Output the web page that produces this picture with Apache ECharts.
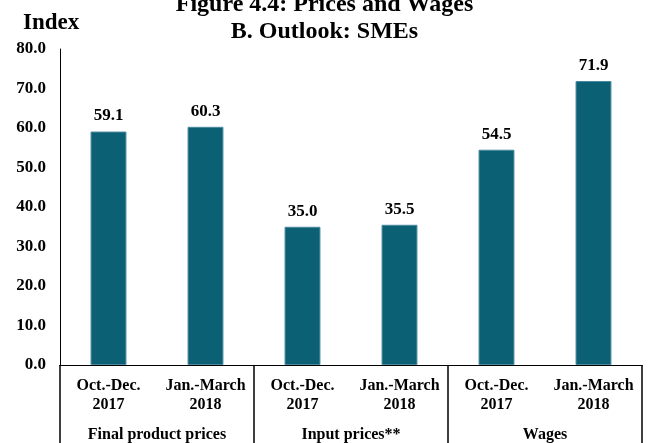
<!DOCTYPE html>
<html>
<head>
<meta charset="utf-8">
<script src="https://cdn.jsdelivr.net/npm/echarts@6/dist/echarts.min.js"></script>
<style>
  html, body { margin: 0; padding: 0; background: #fff; }
  #chart { width: 649px; height: 443px; }
</style>
</head>
<body>
<div id="chart"></div>
<script>
// categories (bars) and groups (bottom table)
var periods = ['Oct.-Dec.\n2017', 'Jan.-March\n2018', 'Oct.-Dec.\n2017', 'Jan.-March\n2018', 'Oct.-Dec.\n2017', 'Jan.-March\n2018']
var groups = ['Final product prices', 'Input prices**', 'Wages']
var values = [59.1, 60.3, 35.0, 35.5, 54.5, 71.9]

var font = "'Liberation Serif', 'Times New Roman', serif"

var chart = echarts.init(document.getElementById('chart'))
var option = {
  animation: false,
  title: [
    {
      text: 'Figure 4.4: Prices and Wages\nB. Outlook: SMEs',
      left: 'center',
      top: -14,
      textStyle: { fontFamily: font, fontSize: 24, fontWeight: 'bold', color: '#000', lineHeight: 27 }
    },
    {
      text: 'Index',
      left: 18,
      top: 7,
      textStyle: { fontFamily: font, fontSize: 23, fontWeight: 'bold', color: '#000' }
    }
  ],
  grid: { left: 60, right: 7, top: 49, bottom: 76 },
  xAxis: [
    {
      type: 'category',
      data: periods,
      position: 'bottom',
      axisLine: { show: true, lineStyle: { color: '#000', width: 1 } },
      axisTick: { show: false },
      axisLabel: {
        interval: 0, margin: 11, lineHeight: 19,
        fontFamily: font, fontSize: 16, fontWeight: 'bold', color: '#000'
      }
    },
    {
      type: 'category',
      data: groups,
      position: 'bottom',
      axisLine: { show: true, lineStyle: { color: '#000', width: 1 } },
      axisTick: { show: true, interval: 0, length: 80, lineStyle: { color: '#000', width: 1.5 } },
      axisLabel: {
        interval: 0, margin: 62,
        fontFamily: font, fontSize: 16, fontWeight: 'bold', color: '#000'
      }
    }
  ],
  yAxis: {
    type: 'value',
    min: 0,
    max: 80,
    interval: 10,
    axisLine: { show: true, lineStyle: { color: '#000', width: 1 } },
    axisTick: { show: false },
    splitLine: { show: false },
    axisLabel: {
      margin: 14,
      fontFamily: font, fontSize: 17, fontWeight: 'bold', color: '#000',
      formatter: function (v) { return v.toFixed(1) }
    }
  },
  series: [
    {
      type: 'bar',
      data: values,
      barWidth: '37%',
      itemStyle: { color: '#0b6173', borderColor: '#4a8aa0', borderWidth: 1 },
      label: {
        show: true,
        position: 'top',
        distance: 7,
        fontFamily: font, fontSize: 17, fontWeight: 'bold', color: '#000',
        formatter: function (p) { return p.value.toFixed(1) }
      }
    }
  ]
}
chart.setOption(option)
</script>
</body>
</html>
